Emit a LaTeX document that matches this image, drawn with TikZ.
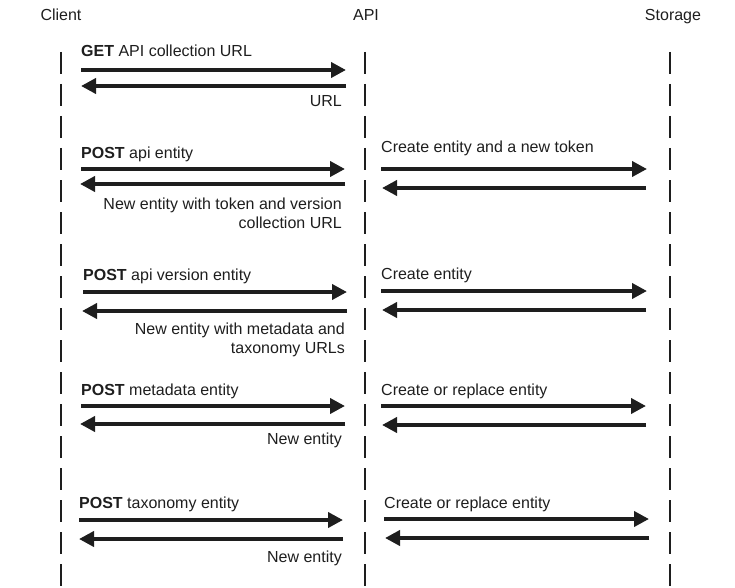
\documentclass[tikz,border=0pt]{standalone}
\usepackage{fontspec}
\setmainfont{Liberation Sans}
\usetikzlibrary{arrows.meta}
\definecolor{ink}{HTML}{1E1E1E}
\tikzset{
  lifeline/.style={ink, line width=2pt, dash pattern=on 22pt off 10pt},
  msg/.style={ink, line width=4.8pt, -{Triangle[length=15pt,width=15pt]}},
  lbl/.style={inner sep=0pt, text=ink, font=\fontsize{16}{19}\selectfont},
}

\begin{document}
\begin{tikzpicture}[x=1pt,y=-1pt]
        \useasboundingbox (0,0) rectangle (735,588);
        % lifelines
        \node[lbl, anchor=base] (client) at (61,21){Client};
        \node[lbl, anchor=base] (api) at (366,21){API};
        \node[lbl, anchor=base] (storage) at (673,21){Storage};
        \coordinate (clienttop) at (61,52);
        \coordinate (clientend) at (61,588);
        \coordinate (apitop) at (365,52);
        \coordinate (apiend) at (365,588);
        \coordinate (storagetop) at (670,52);
        \coordinate (storageend) at (670,588);
        \draw[lifeline] (clienttop)--(clientend);
        \draw[lifeline] (apitop)--(apiend);
        \draw[lifeline] (storagetop)--(storageend);
        % GET collection
        \node[lbl, anchor=base west] (get) at (81,57){\textbf{GET} API collection URL};
        \coordinate (getc) at (81,70);
        \coordinate (geta) at (346,70);
        \coordinate (urla) at (346,86);
        \coordinate (urlc) at (81,86);
        \draw[msg] (getc)--(geta);
        \draw[msg] (urla)--(urlc);
        \node[lbl, anchor=base east] (url) at (342,107){URL};
        % POST api entity
        \node[lbl, anchor=base west] (postapi) at (81,158){\textbf{POST} api entity};
        \coordinate (postapic) at (81,169);
        \coordinate (postapia) at (345,169);
        \coordinate (tokena) at (345,184);
        \coordinate (tokenc) at (80,184);
        \draw[msg] (postapic)--(postapia);
        \draw[msg] (tokena)--(tokenc);
        \node[lbl, anchor=base east, align=right] (token) at (342,228){New entity with token and version\\collection URL};
        \node[lbl, anchor=base west] (createtoken) at (381,153){Create entity and a new token};
        \coordinate (createtokena) at (381,169);
        \coordinate (createtokens) at (647,169);
        \coordinate (tokens) at (646,188);
        \coordinate (tokenapi) at (382,188);
        \draw[msg] (createtokena)--(createtokens);
        \draw[msg] (tokens)--(tokenapi);
        % POST api version entity
        \node[lbl, anchor=base west] (postversion) at (83,280){\textbf{POST} api version entity};
        \coordinate (postversionc) at (83,292);
        \coordinate (postversiona) at (347,292);
        \coordinate (urlsa) at (347,311);
        \coordinate (urlsc) at (82,311);
        \draw[msg] (postversionc)--(postversiona);
        \draw[msg] (urlsa)--(urlsc);
        \node[lbl, anchor=base east, align=right] (urls) at (345,353){New entity with metadata and\\taxonomy URLs};
        \node[lbl, anchor=base west] (createversion) at (381,279){Create entity};
        \coordinate (createversiona) at (381,291);
        \coordinate (createversions) at (647,291);
        \coordinate (versions) at (646,310);
        \coordinate (versionapi) at (382,310);
        \draw[msg] (createversiona)--(createversions);
        \draw[msg] (versions)--(versionapi);
        % POST metadata entity
        \node[lbl, anchor=base west] (postmeta) at (81,395){\textbf{POST} metadata entity};
        \coordinate (postmetac) at (81,406);
        \coordinate (postmetaa) at (345,406);
        \coordinate (metaa) at (345,424);
        \coordinate (metac) at (80,424);
        \draw[msg] (postmetac)--(postmetaa);
        \draw[msg] (metaa)--(metac);
        \node[lbl, anchor=base east] (newmeta) at (342,444){New entity};
        \node[lbl, anchor=base west] (replacemeta) at (381,395){Create or replace entity};
        \coordinate (replacemetaa) at (381,406);
        \coordinate (replacemetas) at (646,406);
        \coordinate (metas) at (646,425);
        \coordinate (metaapi) at (382,425);
        \draw[msg] (replacemetaa)--(replacemetas);
        \draw[msg] (metas)--(metaapi);
        % POST taxonomy entity
        \node[lbl, anchor=base west] (posttaxo) at (79,508){\textbf{POST} taxonomy entity};
        \coordinate (posttaxoc) at (79,520);
        \coordinate (posttaxoa) at (343,520);
        \coordinate (taxoa) at (343,539);
        \coordinate (taxoc) at (79,539);
        \draw[msg] (posttaxoc)--(posttaxoa);
        \draw[msg] (taxoa)--(taxoc);
        \node[lbl, anchor=base east] (newtaxo) at (342,562){New entity};
        \node[lbl, anchor=base west] (replacetaxo) at (384,508){Create or replace entity};
        \coordinate (replacetaxoa) at (384,519);
        \coordinate (replacetaxos) at (649,519);
        \coordinate (taxos) at (649,538);
        \coordinate (taxoapi) at (385,538);
        \draw[msg] (replacetaxoa)--(replacetaxos);
        \draw[msg] (taxos)--(taxoapi);
    \end{tikzpicture}
\end{document}
